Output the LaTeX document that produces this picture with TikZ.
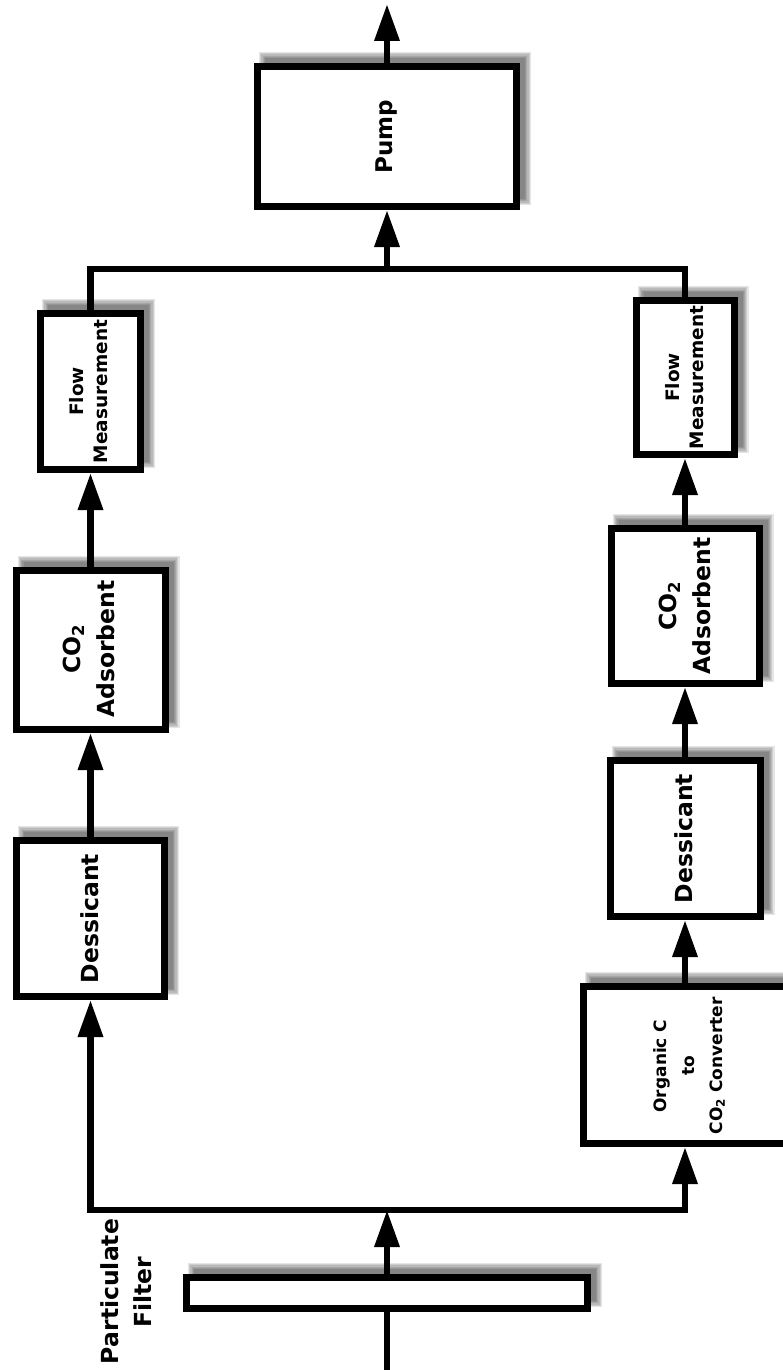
\documentclass[tikz,border=0pt]{standalone}
\usepackage{fontspec}
\setmainfont{DejaVu Sans}
\usetikzlibrary{arrows.meta,calc,backgrounds}
\newcommand\fsz[2]{\bfseries\fontsize{#1}{#2}\selectfont}
\begin{document}
\begin{tikzpicture}[x=1pt,y=-1pt,
  box/.style={draw, line width=7pt, fill=white, inner sep=0pt, rectangle},
  lbl/.style={rotate=90, align=center, inner sep=0pt},
  conn/.style={line width=6.5pt},
  arr/.style={line width=6.5pt, -{Triangle[length=37pt,width=24pt]}},
]
\useasboundingbox (0,0) rectangle (782,1370);

% boxes
\node[box, minimum width=259pt, minimum height=140pt] (pump) at (387,136.5) {};
\node[box, minimum width=100pt, minimum height=156pt] (flowL) at (90.5,391.5) {};
\node[box, minimum width=149pt, minimum height=159pt] (co2L) at (90.5,650) {};
\node[box, minimum width=148pt, minimum height=156pt] (dessL) at (90.5,918.5) {};
\node[box, minimum width=98pt, minimum height=154pt] (flowR) at (685,377.5) {};
\node[box, minimum width=148pt, minimum height=155pt] (co2R) at (685,606) {};
\node[box, minimum width=150pt, minimum height=156pt] (dessR) at (685,838.5) {};
\node[box, minimum width=213pt, minimum height=157pt] (org) at (690,1065) {};
\node[box, minimum width=401pt, minimum height=31pt] (filt) at (387,1293) {};

% texts
\node[lbl, font=\fsz{23}{26}] (pumpT) at (pump) {Pump};
\node[lbl, font=\fsz{18.5}{24}] (flowLT) at (89,391.5) {Flow\\Measurement};
\node[lbl, font=\fsz{23.5}{34}] (co2LT) at (89,649) {CO\textsubscript{2}\\Adsorbent};
\node[lbl, font=\fsz{23.5}{28}] (dessLT) at (90,918.5) {Dessicant};
\node[lbl, font=\fsz{18.5}{24}] (flowRT) at (685,377.5) {Flow\\Measurement};
\node[lbl, font=\fsz{23.5}{34}] (co2RT) at (685,606) {CO\textsubscript{2}\\Adsorbent};
\node[lbl, font=\fsz{23.5}{28}] (dessRT) at (684,838.5) {Dessicant};
\node[lbl, font=\fsz{17}{28}] (orgT) at (689,1066) {Organic C\\to\\CO\textsubscript{2} Converter};
\node[lbl, font=\fsz{23.5}{28}] (pfA) at (110,1291.5) {Particulate};
\node[lbl, font=\fsz{23.5}{28}] (pfB) at (143,1292.5) {Filter};

% shadows
\begin{scope}[on background layer]
\foreach \n in {pump,flowL,co2L,dessL,flowR,co2R,dessR,org,filt}{
  \foreach \i in {0,...,5}{
    \pgfmathsetmacro\e{3-1.2*\i}
    \fill[black,opacity=0.1] ($(\n.south west)+(8-\e,-8+\e)$) rectangle ($(\n.north east)+(8+\e,-8-\e)$);
  }
}
\end{scope}

% coordinates
\coordinate (jt) at (387,269);
\coordinate (jb) at (387,1210);
\coordinate (rb) at (685,1210);
\coordinate (inl) at (387,1372);
\coordinate (out) at (387,4);

% connectors
\draw[conn] (inl) -- (filt.south);
\draw[arr] (filt.north) -- (jb);
\draw[arr] (jb) -| (dessL.south);
\draw[arr] (jb) -| (org.south -| rb);
\draw[arr] (dessL.north) -- (co2L.south);
\draw[arr] (co2L.north) -- (flowL.south);
\draw[conn] (flowL.north) |- (jt);
\draw[conn] (flowR.north) |- (jt);
\draw[arr] (jt) -- (pump.south);
\draw[arr] (pump.north) -- (out);
\draw[arr] (rb |- org.north) -- (dessR.south);
\draw[arr] (dessR.north) -- (co2R.south);
\draw[arr] (co2R.north) -- (flowR.south);
\end{tikzpicture}
\end{document}
